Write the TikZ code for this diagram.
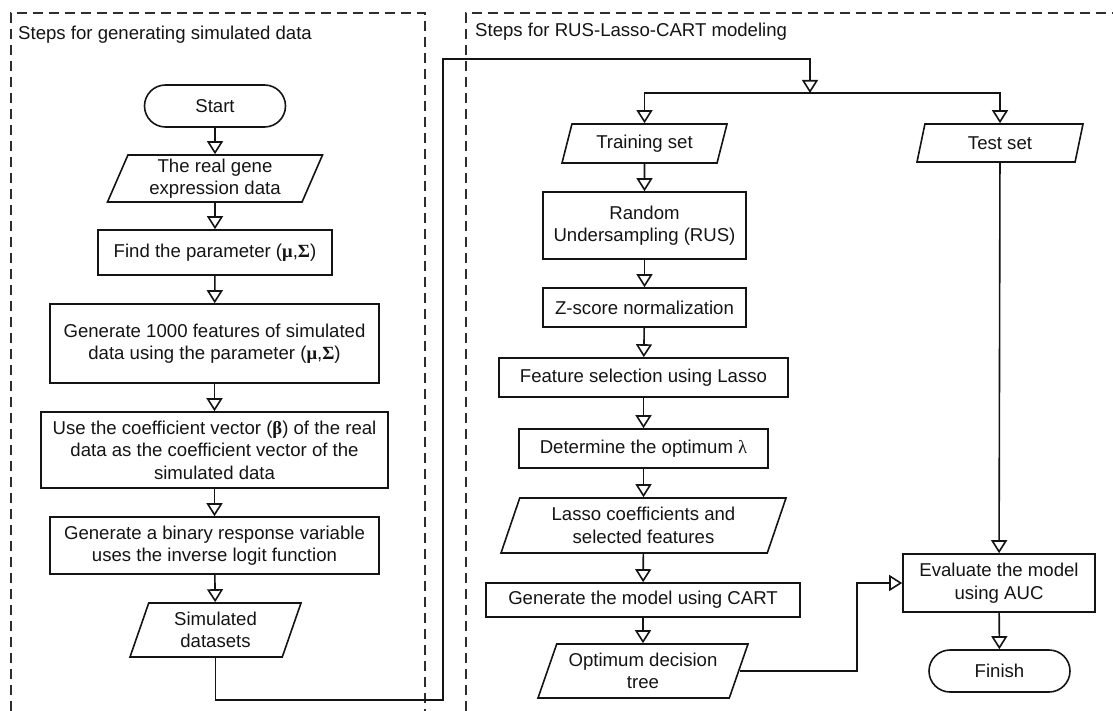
\documentclass[tikz,border=0pt]{standalone}
\usepackage{fontspec}
\setmainfont{Liberation Sans}
\newfontfamily\greekserif{Liberation Serif}
\usetikzlibrary{shapes.geometric,shapes.misc,arrows.meta}
\definecolor{ink}{HTML}{141414}
\definecolor{frame}{HTML}{2E2E2E}
\newcommand{\bgr}[1]{{\greekserif\bfseries #1}}

\begin{document}
\begin{tikzpicture}[x=1pt,y=-1pt,
  every node/.style={font=\fontsize{18.6}{22.5}\selectfont,text=ink,align=center,inner sep=2pt},
  proc/.style={draw=ink,line width=1.6pt,rectangle},
  data/.style={draw=ink,line width=1.6pt,trapezium,trapezium left angle=65,trapezium right angle=115,trapezium stretches body},
  term/.style={draw=ink,line width=1.6pt,rounded rectangle,minimum width=145pt,minimum height=42pt},
  flow/.style={draw=ink,line width=1.6pt,-{Triangle[open,length=13pt,width=16pt,fill=white]}},
  zone/.style={draw=frame,line width=1.2pt,dash pattern=on 10pt off 6pt}]
\useasboundingbox (0,0) rectangle (1113,711);

% dashed zones
\draw[zone] (11,711) -- (11,13) -- (425,13) -- (425,711);
\draw[zone] (466,711) -- (466,13) -- (1113,13);
\node[anchor=west] (simtitle) at (16,35) {Steps for generating simulated data};
\node[anchor=west] (modtitle) at (473,32) {Steps for RUS-Lasso-CART modeling};

% simulated data
\node[term] (start) at (215,106) {Start};
\node[data,minimum width=215pt,minimum height=47pt] (real) at (215,178.5) {The real gene\\expression data};
\node[proc,minimum width=234pt,minimum height=45pt] (param) at (215,252.5) {Find the parameter (\bgr{μ},\bgr{Σ})};
\node[proc,minimum width=329pt,minimum height=79pt] (gen) at (214.5,343.5) {Generate 1000 features of simulated\\data using the parameter (\bgr{μ},\bgr{Σ})};
\node[proc,minimum width=347pt,minimum height=76pt] (coef) at (214.5,450) {Use the coefficient vector (\bgr{β}) of the real\\data as the coefficient vector of the\\simulated data};
\node[proc,minimum width=329pt,minimum height=57pt] (binary) at (214.5,545.5) {Generate a binary response variable\\uses the inverse logit function};
\node[data,minimum width=171pt,minimum height=54pt] (sim) at (215.5,630) {Simulated\\datasets};

% modeling
\node[data,minimum width=165pt,minimum height=39pt] (train) at (644.5,143.5) {Training set};
\node[data,minimum width=166pt,minimum height=38pt] (test) at (1000,143) {Test set};
\node[proc,minimum width=203pt,minimum height=67pt] (rus) at (644.5,225.5) {Random\\Undersampling (RUS)};
\node[proc,minimum width=203pt,minimum height=39pt] (zscore) at (644.5,307.5) {Z-score normalization};
\node[proc,minimum width=289pt,minimum height=39pt] (select) at (643.5,377.5) {Feature selection using Lasso};
\node[proc,minimum width=249pt,minimum height=39pt] (optlambda) at (643.5,448.5) {Determine the optimum {\greekserif λ}};
\node[data,minimum width=285pt,minimum height=55pt] (lasso) at (643.5,525.5) {Lasso coefficients and\\selected features};
\node[proc,minimum width=314pt,minimum height=34pt] (cart) at (643,600) {Generate the model using CART};
\node[data,minimum width=210pt,minimum height=54pt] (tree) at (643,671) {Optimum decision\\tree};
\node[proc,minimum width=192pt,minimum height=58pt] (eval) at (999,583) {Evaluate the model\\using AUC};
\node[term] (finish) at (999.5,671) {Finish};

\coordinate (low) at (443,700);
\coordinate (high) at (443,59);
\coordinate (split) at (810,93);
\coordinate (bend) at (857,620);

\draw[flow] (start) -- (real);
\draw[flow] (real) -- (param);
\draw[flow] (param) -- (gen);
\draw[flow] (gen) -- (coef);
\draw[flow] (coef) -- (binary);
\draw[flow] (binary) -- (sim);
\draw[flow] (sim.south) |- (low) -- (high) -| (split);
\draw[flow] (split) -| (train.north);
\draw[flow] (split) -| (test.north);
\draw[flow] (train) -- (rus);
\draw[flow] (rus) -- (zscore);
\draw[flow] (zscore) -- (select);
\draw[flow] (select) -- (optlambda);
\draw[flow] (optlambda) -- (lasso);
\draw[flow] (lasso) -- (cart);
\draw[flow] (cart) -- (tree);
\draw[flow] (tree.east) -- (tree.east -| bend) |- (eval.west);
\draw[flow] (test) -- (eval);
\draw[flow] (eval) -- (finish);
\end{tikzpicture}
\end{document}
